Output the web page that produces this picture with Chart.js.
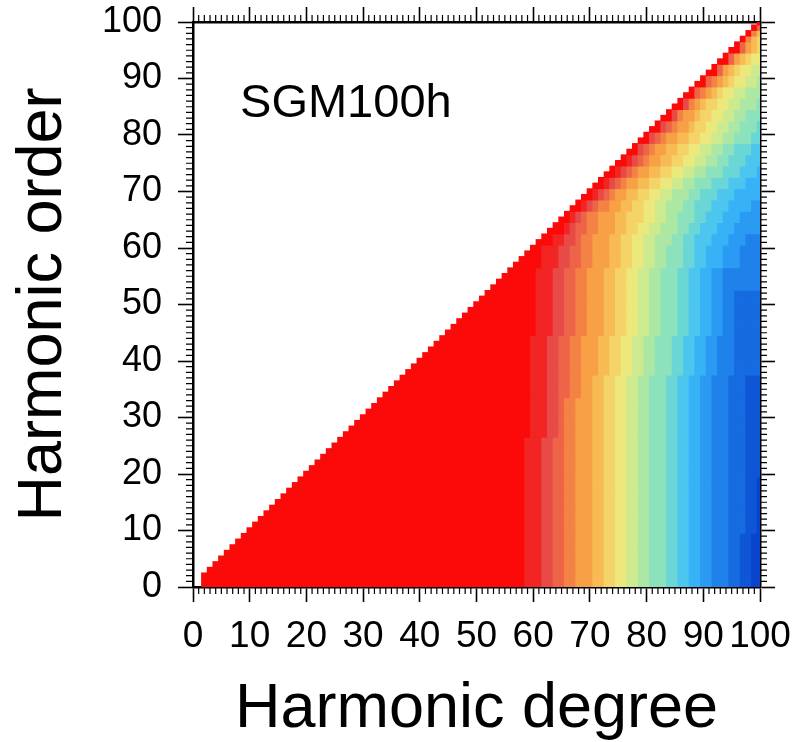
<!DOCTYPE html>
<html>
<head>
<meta charset="utf-8">
<script src="https://cdn.jsdelivr.net/npm/chart.js@4.4.1/dist/chart.umd.min.js"></script>
<style>
html,body{margin:0;padding:0;background:#fff}
#wrap{width:806px;height:742px}
</style>
</head>
<body>
<div id="wrap"><canvas id="chart" width="806" height="742"></canvas></div>
<script>

const modelName = "SGM100h"
const xTitle = "Harmonic degree"
const yTitle = "Harmonic order"
const degreeTicks = [0,10,20,30,40,50,60,70,80,90,100]
const orderTicks = [0,10,20,30,40,50,60,70,80,90,100]

const firstDegree = 2
const maxDegree = 100

// colour classes, lowest (dark blue) to highest (red)
const levelKeys = "0123456789abcdefghij"
const levelColors = [
"#0844cc","#0e56d6","#166be0","#1f82ea","#2a9af2",
"#38b2f6","#4cc6ee","#6ad6d6","#8ce2bc","#ace8a4",
"#cdeb8e","#ece87c","#f4d468","#f8bb54","#f7a046",
"#f38244","#ee6448","#e84a48","#f22424","#fc0a0a"
]

// each band: first order it applies to, and the classes
// for the highest degrees (the string ends at degree 100); degrees left of it are red
const bandStart = [0,10,20,27,34,38,45,53,57,61,63,65,67,69,71,73,75,77,79,81,83,85,87,89,91,93,95,97,98,99,100]
const bandTails = [
"iiihhggffeeeddccbbaa9988877665544333221100",
"iiihhggffeeeddccbbaa9988877665544333222110",
"iiihhggffeeeddccbbaa9988877665544333222111",
"jiiihhgffeeeddccbbaa9988877665544333222111",
"jiiihhggffeeddccbbaa9988877665544333222111",
"jiiihhggffeeeddccbbaa998887766554433322222",
"jjiiihhggffeeeddccbbaa99888776655443322222",
"jjiiihhggffeeeddccbbaa99888776655443333333",
"jjjiiihhggffeeeddccbbaa9988877665554443333",
"jjjiihhgffeeeddccbbaa9998877666555444333",
"jjjihggffeeeddccbbaa999887766655544444",
"jjihgffeeeddcccbbaa99888776665554444",
"jjihgffeeddccbbaa99988777666555544",
"jjihgfeeddccbbaa9998877766655555",
"jjihgfeeddccbbaa99888777666555",
"jjihgfeeddccbbaa998887776665",
"jjihgfeeddccbbaa9988777666",
"jjhgfeeddccbbaa998877766",
"jjhgfeeddccbbaa9988877",
"jjhgfeedccbbaa998887",
"jjhfeedccbbaa99888",
"jjhfedccbbaa9998",
"jjgfedcbbaa999",
"jjgfedcbbaa9",
"jjgedcbbaa",
"jjgedcbb",
"jjgedc",
"jfdc",
"jfd",
"jg",
"j"
]

let cells = []
for(let m=0;m<=maxDegree;m++){
let b = 0
for(let i=0;i<bandStart.length;i++){ if(bandStart[i]<=m) b=i }
let tail = bandTails[b]
let tailStart = maxDegree + 1 - tail.length
for(let n=Math.max(m,firstDegree);n<=maxDegree;n++){
let key = n>=tailStart ? tail[n-tailStart] : "j"
cells.push({x:n,y:m,k:levelKeys.indexOf(key)})
}
}

const fontFamily = "'Liberation Sans', Arial, Helvetica, sans-serif"
const minorLen = 7

const minorTicks = {
id:"minorTicks",
afterDraw(chart){
let ctx = chart.ctx
let a = chart.chartArea
let xs = chart.scales.x
let ys = chart.scales.y
ctx.save()
ctx.strokeStyle = "#000"
ctx.lineWidth = 1.2
ctx.beginPath()
for(let v=0;v<=100;v++){
if(v%10===0) continue
let px = xs.getPixelForValue(v)
ctx.moveTo(px,a.bottom); ctx.lineTo(px,a.bottom+minorLen)
ctx.moveTo(px,a.top); ctx.lineTo(px,a.top-minorLen)
let py = ys.getPixelForValue(v)
ctx.moveTo(a.left,py); ctx.lineTo(a.left-minorLen,py)
ctx.moveTo(a.right,py); ctx.lineTo(a.right+minorLen,py)
}
ctx.stroke()
ctx.restore()
}
}

const modelLabel = {
id:"modelLabel",
afterDatasetsDraw(chart){
let ctx = chart.ctx
ctx.save()
ctx.fillStyle = "#000"
ctx.font = "47px " + fontFamily
ctx.textAlign = "left"
ctx.textBaseline = "alphabetic"
ctx.fillText(modelName, chart.scales.x.getPixelForValue(8.3), chart.scales.y.getPixelForValue(83.2))
ctx.restore()
}
}

function axisGrid(){
return {drawOnChartArea:false, drawTicks:true, tickLength:15, tickWidth:1.6, tickColor:"#000"}
}
function axisBorder(){
return {display:true, color:"#000", width:2.5}
}
function fixSize(w,h){
return (s)=>{
if(w!==null) s.width = w
if(h!==null) s.height = h
s.paddingTop = 0; s.paddingBottom = 0; s.paddingLeft = 0; s.paddingRight = 0
}
}

let ctx = document.getElementById("chart")

new Chart(ctx,{
type:"scatter",
data:{
datasets:[{
data:cells,
pointStyle:"rect",
pointRadius:(c)=>{
let xs = c.chart.scales.x
let w = Math.abs(xs.getPixelForValue(1)-xs.getPixelForValue(0))
return (w+0.8)/Math.SQRT2
},
pointBackgroundColor:(c)=>levelColors[c.raw.k],
pointBorderWidth:0,
clip:0
}]
},
options:{
responsive:false,
animation:false,
events:[],
layout:{padding:0},
plugins:{legend:{display:false},tooltip:{enabled:false}},
scales:{
x:{
type:"linear",position:"bottom",min:0,max:100,z:1,
afterBuildTicks:(s)=>{ s.ticks = degreeTicks.map(v=>({value:v})) },
ticks:{color:"#000",padding:16,maxRotation:0,autoSkip:false,font:{family:fontFamily,size:37,lineHeight:1}},
grid:axisGrid(),
border:axisBorder(),
title:{display:true,text:xTitle,color:"#000",font:{family:fontFamily,size:63,lineHeight:1},padding:{top:0,bottom:1}},
afterFit:fixSize(null,155)
},
x2:{
type:"linear",position:"top",min:0,max:100,z:1,
afterBuildTicks:(s)=>{ s.ticks = degreeTicks.map(v=>({value:v})) },
ticks:{display:false},
grid:axisGrid(),
border:axisBorder(),
afterFit:fixSize(null,22)
},
y:{
type:"linear",position:"left",min:0,max:100,z:1,
afterBuildTicks:(s)=>{ s.ticks = orderTicks.map(v=>({value:v})) },
ticks:{color:"#000",padding:16,font:{family:fontFamily,size:36,lineHeight:1}},
grid:axisGrid(),
border:axisBorder(),
title:{display:true,text:yTitle,color:"#000",font:{family:fontFamily,size:63,lineHeight:1},padding:{top:12,bottom:0}},
afterFit:fixSize(193,null)
},
y2:{
type:"linear",position:"right",min:0,max:100,z:1,
afterBuildTicks:(s)=>{ s.ticks = orderTicks.map(v=>({value:v})) },
ticks:{display:false},
grid:axisGrid(),
border:axisBorder(),
afterFit:fixSize(46,null)
}
}
},
plugins:[minorTicks,modelLabel]
})

</script>
</body>
</html>
